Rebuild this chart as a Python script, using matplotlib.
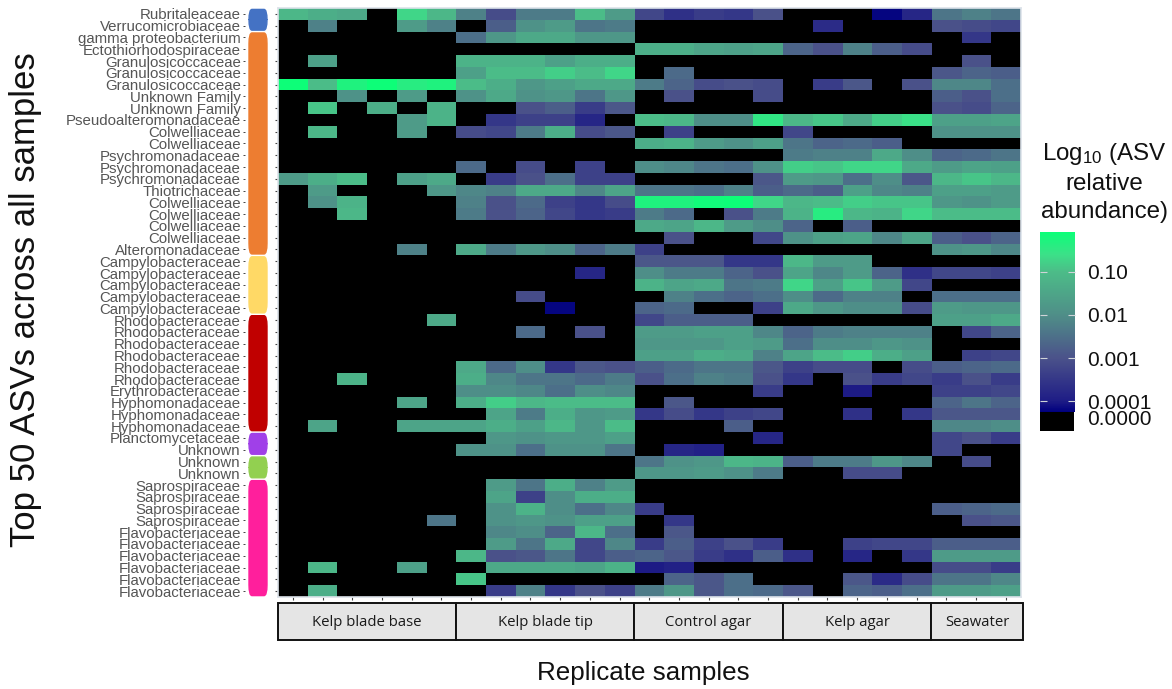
import numpy as np
import matplotlib
matplotlib.use('Agg')
import matplotlib.pyplot as plt
from matplotlib.colors import LinearSegmentedColormap
from matplotlib.patches import FancyBboxPatch, Rectangle

W, H = 1172, 689

plt.rcParams['font.family'] = ['Liberation Sans', 'DejaVu Sans']
plt.rcParams['mathtext.default'] = 'regular'

# log10 relative abundance, 0 means not detected
# columns: blade base x6, blade tip x6, control agar x5, kelp agar x5, seawater x3
verruco_rows = [
    [-1.1,-1.3,-1.4,0,-0.7,-1.1, -2.2,-3.1,-2.3,-2.3,-1.0,-1.7, -3.2,-3.6,-3.4,-3.5,-3.0, 0,0,0,-4.2,-3.8, -2.4,-2.2,-2.4],
    [0,-2.2,0,0,-1.7,-2.2, 0,-2.8,-1.9,-1.7,-2.4,-2.3, 0,0,0,0,0, 0,-3.7,0,0,0, -3.0,-3.1,-3.2],
]
gamma_rows = [
    [0,0,0,0,0,0, -2.5,-1.8,-1.4,-1.4,-1.8,-1.8, 0,0,0,0,0, 0,0,0,0,0, 0,-3.5,0],
    [0,0,0,0,0,0, 0,0,0,0,0,0, -1.3,-1.3,-1.5,-1.6,-1.5, -2.7,-3.0,-2.2,-2.8,-3.1, 0,0,0],
    [0,-1.6,0,0,0,0, -1.2,-1.2,-1.2,-1.6,-1.3,-1.3, 0,0,0,0,0, 0,0,0,0,0, 0,-3.0,0],
    [0,0,0,0,0,0, -1.6,-1.0,-1.0,-0.8,-1.0,-0.7, 0,-2.6,0,0,0, 0,0,0,0,0, -2.9,-2.7,-2.8],
    [-0.1,-1.0,-0.3,-0.1,-0.4,-0.3, -1.0,-1.3,-1.8,-1.6,-1.4,-1.4, -2.3,-2.7,-3.1,-3.0,-3.1, 0,-3.4,-2.9,0,-3.0, -2.1,-2.1,-2.5],
    [0,0,-1.9,0,-1.7,0, -1.9,-1.4,-1.9,-1.8,-2.4,-1.8, 0,-3.0,0,0,-3.1, 0,0,0,0,0, -2.8,-3.0,-2.5],
    [0,-0.9,0,-1.3,0,-1.2, 0,0,-3.0,-2.8,-3.4,-2.9, 0,0,0,0,0, 0,0,0,0,0, -3.0,-3.1,-2.7],
    [0,0,0,0,-1.7,-1.2, 0,-3.5,-3.3,-3.3,-3.8,0, -1.0,-1.1,-2.0,-2.0,-0.5, -1.1,-0.9,-1.4,-0.8,-0.6, -1.6,-1.6,-1.5],
    [0,-1.1,0,0,-1.7,0, -3.1,-3.2,-2.3,-1.3,-3.1,-2.9, 0,-3.3,0,0,0, -3.2,0,0,0,0, -1.9,-1.9,-1.9],
    [0,0,0,0,0,0, 0,0,0,0,0,0, -1.3,-1.2,-1.7,-1.9,-1.6, -2.4,-2.7,-2.6,-2.8,0, 0,0,0],
    [0,0,0,0,0,0, 0,0,0,0,0,0, 0,0,0,0,0, -2.3,-2.2,-2.2,-1.4,-2.0, -2.7,-2.6,-2.4],
    [0,0,0,0,0,0, -2.6,0,-3.1,0,-3.3,0, -2.0,-2.1,-2.4,-2.5,-1.9, -0.8,-0.9,-0.7,-0.7,-1.4, -1.7,-1.5,-1.6],
    [-1.7,-1.3,-1.0,0,-1.6,-1.4, 0,-3.4,-3.0,-2.5,-3.3,-3.3, 0,0,0,0,-2.9, -1.7,-1.8,-2.5,-2.0,-2.9, -1.1,-0.9,-1.1],
    [0,-1.7,0,0,0,-1.8, -2.1,-2.2,-1.4,-1.4,-2.1,-1.5, -2.4,-2.4,-2.5,-2.2,-2.8, -2.6,-2.8,-1.6,-2.1,-2.2, -1.6,-1.6,-1.7],
    [0,-1.9,-1.2,0,0,0, -2.2,-3.0,-2.6,-3.3,-3.5,-3.1, -0.3,-0.3,-0.15,-0.1,-0.7, -1.1,-1.0,-0.8,-0.9,-0.9, -1.8,-1.9,-1.7],
    [0,0,-1.1,0,0,0, -2.3,-3.0,-2.7,-3.2,-3.5,-3.4, -2.3,-2.6,0,-3.0,-2.3, -1.2,-0.4,-1.1,-1.2,-0.7, -1.0,-1.0,-1.0],
    [0,0,0,0,0,0, 0,0,0,0,0,0, -1.4,-1.5,-1.1,-1.7,-2.0, -2.7,0,-2.8,0,0, 0,0,0],
    [0,0,0,0,0,0, 0,0,0,0,0,0, 0,-3.0,0,0,-3.2, -1.9,-1.6,-1.5,-2.1,-1.5, -2.8,-3.0,-2.7],
    [0,0,0,0,-2.2,0, -1.4,-2.3,-1.8,-2.0,-2.7,-2.3, -3.3,0,0,0,0, 0,0,0,0,0, -1.9,-1.8,-2.1],
]
campylo_rows = [
    [0,0,0,0,0,0, 0,0,0,0,0,0, -2.9,-2.9,-2.9,-3.5,-3.5, -1.1,-1.7,-1.7,0,0, 0,0,0],
    [0,0,0,0,0,0, 0,0,0,0,-3.8,0, -2.0,-2.3,-2.3,-2.7,-3.0, -1.5,-2.1,-1.7,-2.7,-3.6, -3.2,-3.2,-3.3],
    [0,0,0,0,0,0, 0,0,0,0,0,0, -1.2,-1.5,-1.4,-2.4,-2.3, -0.7,-1.6,-0.9,-1.7,-3.2, 0,0,0],
    [0,0,0,0,0,0, 0,0,-3.1,0,0,0, 0,-2.2,-2.5,-2.7,-2.5, -2.0,-2.6,-2.2,-2.2,0, -2.5,-2.5,-2.5],
    [0,0,0,0,0,0, 0,0,0,-4.2,0,0, -2.7,-2.6,0,0,-3.3, -1.4,-1.8,-2.0,-2.0,-3.1, -1.7,-1.8,-1.8],
]
alpha_rows = [
    [0,0,0,0,0,-1.4, 0,0,0,0,0,0, -3.2,-2.8,-2.8,-2.8,0, 0,0,0,0,0, -1.6,-1.6,-1.4],
    [0,0,0,0,0,0, 0,0,-2.6,0,-3.0,0, -1.7,-1.7,-1.6,-1.6,-2.1, -2.7,-2.3,-2.2,-2.2,-2.2, 0,-3.2,-2.7],
    [0,0,0,0,0,0, 0,0,0,0,0,0, -1.8,-1.8,-1.8,-1.6,-1.7, -2.5,-2.0,-2.0,-1.8,-1.9, 0,0,0],
    [0,0,0,0,0,0, 0,0,0,0,0,0, -1.6,-1.6,-1.3,-1.4,-2.2, -1.5,-1.0,-0.8,-1.3,-1.6, 0,-3.3,-3.2],
    [0,0,0,0,0,0, -1.4,-2.6,-2.0,-3.5,-2.9,-3.0, -2.8,-2.6,-2.4,-2.4,-2.9, -3.3,-3.1,-3.1,0,-3.1, -2.8,-2.7,-2.6],
    [0,0,-1.2,0,0,0, -1.3,-2.1,-2.4,-2.4,-2.6,-2.3, -3.0,-2.5,-2.2,-2.3,-3.0, -3.5,0,-3.0,-3.4,-3.2, -3.4,-3.0,-3.4],
    [0,0,0,0,0,0, -2.0,-2.0,-2.1,-2.5,-2.0,-2.1, 0,0,0,0,-3.4, 0,0,-4.0,0,0, -3.3,-3.3,-3.2],
    [0,0,0,0,-1.5,0, -1.3,-0.8,-1.1,-1.0,-1.0,-1.0, 0,-2.9,0,0,0, 0,0,0,0,0, -2.7,-2.4,-2.7],
    [0,0,0,0,0,0, 0,-1.5,-2.3,-1.3,-1.8,-1.7, -3.5,-3.1,-3.5,-3.3,-3.2, 0,0,-3.6,0,-3.5, -2.9,-2.9,-2.9],
    [0,-1.5,0,0,-1.5,-1.5, -1.5,-1.3,-1.6,-1.1,-1.8,-1.0, 0,0,0,-2.8,0, 0,0,0,0,0, -2.1,-2.1,-2.0],
]
plancto_rows = [
    [0,0,0,0,0,0, 0,-1.8,-1.9,-1.8,-1.8,-1.6, 0,0,0,0,-3.8, 0,0,0,0,0, -3.2,-3.0,-3.4],
]
unknown_rows = [
    [0,0,0,0,0,0, -1.9,-1.9,-2.5,-1.9,-1.9,-2.4, 0,-3.8,-3.9,0,0, 0,0,0,0,0, -3.2,0,0],
    [0,0,0,0,0,0, 0,0,0,0,0,0, -2.4,-1.9,-1.8,-1.1,-1.2, -2.8,-2.3,-2.3,-1.8,-2.1, 0,-3.1,0],
    [0,0,0,0,0,0, 0,0,0,0,0,0, -1.8,-1.8,-1.7,-1.9,-2.3, 0,0,-3.1,-3.1,0, 0,0,0],
]
bacteroid_rows = [
    [0,0,0,0,0,0, 0,-1.7,-2.4,-1.3,-2.2,-1.7, 0,0,0,0,0, 0,0,0,0,0, 0,0,0],
    [0,0,0,0,0,0, 0,-1.5,-3.3,-2.0,-1.3,-1.3, 0,0,0,0,0, 0,0,0,0,0, 0,0,0],
    [0,0,0,0,0,0, 0,-1.9,-1.2,-2.0,-2.5,-2.1, -3.4,0,0,0,0, 0,0,0,0,0, -2.8,-2.7,-2.6],
    [0,0,0,0,0,-2.4, 0,-1.9,-1.8,-1.9,-1.6,-1.6, 0,-3.5,0,0,0, 0,0,0,0,0, 0,-3.0,-2.9],
    [0,0,0,0,0,0, 0,-2.1,-2.0,-2.7,-1.1,-2.5, 0,-2.9,0,0,0, 0,0,0,0,0, 0,0,0],
    [0,0,0,0,0,0, 0,-1.7,-2.4,-1.4,-3.2,-2.1, -3.4,-2.8,-3.3,-3.0,-3.4, 0,0,-3.3,-3.2,-3.2, -2.8,-2.8,-2.8],
    [0,0,0,0,0,0, -1.1,-3.0,-2.9,-2.4,-3.2,-2.8, -2.7,-2.9,-3.4,-3.6,-2.8, -3.6,0,-3.8,0,-3.5, -1.7,-1.7,-1.7],
    [0,-1.1,0,0,-1.6,0, 0,-1.4,-1.4,-1.4,-1.5,-1.2, -4.0,-3.9,0,0,0, 0,0,0,0,0, -3.1,-3.1,-3.4],
    [0,0,0,0,0,0, -0.9,0,0,0,0,0, 0,-2.7,-2.9,-2.5,0, 0,0,-2.9,-3.7,-3.1, -2.4,-2.4,-2.1],
    [0,-1.3,0,0,0,0, 0,-3.4,-2.2,-3.5,-3.0,-3.3, -2.3,-1.8,-2.9,-2.5,-2.6, -2.9,0,-2.7,-2.8,-2.5, -1.7,-1.7,-1.6],
]

taxa = ['Rubritaleaceae', 'Verrucomicrobiaceae', 'gamma proteobacterium',
        'Ectothiorhodospiraceae', 'Granulosicoccaceae', 'Granulosicoccaceae',
        'Granulosicoccaceae', 'Unknown Family', 'Unknown Family',
        'Pseudoalteromonadaceae', 'Colwelliaceae', 'Colwelliaceae',
        'Psychromonadaceae', 'Psychromonadaceae', 'Psychromonadaceae',
        'Thiotrichaceae', 'Colwelliaceae', 'Colwelliaceae', 'Colwelliaceae',
        'Colwelliaceae', 'Alteromonadaceae', 'Campylobacteraceae',
        'Campylobacteraceae', 'Campylobacteraceae', 'Campylobacteraceae',
        'Campylobacteraceae', 'Rhodobacteraceae', 'Rhodobacteraceae',
        'Rhodobacteraceae', 'Rhodobacteraceae', 'Rhodobacteraceae',
        'Rhodobacteraceae', 'Erythrobacteraceae', 'Hyphomonadaceae',
        'Hyphomonadaceae', 'Hyphomonadaceae', 'Planctomycetaceae', 'Unknown',
        'Unknown', 'Unknown', 'Saprospiraceae', 'Saprospiraceae',
        'Saprospiraceae', 'Saprospiraceae', 'Flavobacteriaceae',
        'Flavobacteriaceae', 'Flavobacteriaceae', 'Flavobacteriaceae',
        'Flavobacteriaceae', 'Flavobacteriaceae']

sample_groups = ['Kelp blade base', 'Kelp blade tip', 'Control agar', 'Kelp agar', 'Seawater']
group_sizes = [6, 6, 5, 5, 3]

phylum_colors = ['#4472C4', '#ED7D31', '#FFD966', '#C00000', '#A040E8', '#92D050', '#FF1F9C']
phylum_rows = [2, 19, 5, 10, 2, 2, 10]

legend_values = [-1, -2, -3, -4]
legend_labels = ['0.10', '0.01', '0.001', '0.0001']

VMIN, VMAX = -4.25, -0.08
cmap_nodes = [(-4.25, '#00007F'), (-4.0, '#1E1C86'), (-3.0, '#4B528A'),
              (-2.0, '#4F8E88'), (-1.0, '#4CBC88'), (-0.6, '#3CE088'),
              (-0.08, '#0CFF78')]


def px_axes(fig, x0, y0, x1, y1):
    # pixel box measured from top left of the picture
    return fig.add_axes([x0 / W, 1 - y1 / H, (x1 - x0) / W, (y1 - y0) / H])


def main():
    matrix = np.array(verruco_rows + gamma_rows + campylo_rows + alpha_rows
                      + plancto_rows + unknown_rows + bacteroid_rows, dtype=float)
    n_rows, n_cols = matrix.shape

    cmap = LinearSegmentedColormap.from_list(
        'abund', [((v - VMIN) / (VMAX - VMIN), c) for v, c in cmap_nodes])
    cmap.set_bad('black')

    fig = plt.figure(figsize=(W / 100, H / 100), dpi=100, facecolor='white')

    ax = px_axes(fig, 278, 8, 1020.5, 597)
    im = ax.imshow(np.ma.masked_equal(matrix, 0), cmap=cmap, vmin=VMIN, vmax=VMAX,
                   aspect='auto', interpolation='nearest')
    ax.set_xticks(range(n_cols))
    ax.set_yticks(range(n_rows))
    ax.set_xticklabels([])
    ax.set_yticklabels([])
    ax.tick_params(axis='both', length=2.5, width=0.8, color='#444444')
    for spine in ax.spines.values():
        spine.set_color('#dde3ea')
        spine.set_linewidth(1.2)

    # phylum sidebar with the row labels
    side = px_axes(fig, 245, 8, 272, 597)
    side.set_xlim(245, 272)
    side.set_ylim(n_rows - 0.5, -0.5)
    side.set_xticks([])
    side.set_yticks(range(n_rows))
    side.set_yticklabels(taxa, fontsize=10.8, color='#555555')
    side.tick_params(axis='y', length=1.5, width=0.7, pad=1.5, color='#444444')
    for spine in side.spines.values():
        spine.set_visible(False)
    start = -0.5
    for color, count in zip(phylum_colors, phylum_rows):
        side.add_patch(FancyBboxPatch(
            (249, start + 0.12), 18, count - 0.24,
            boxstyle='round,pad=0,rounding_size=3', mutation_aspect=0.3,
            linewidth=1, edgecolor=color, facecolor=color))
        start += count

    # facet strips
    col_w = (1020.5 - 278) / n_cols
    left = 278
    for i, (name, size) in enumerate(zip(sample_groups, group_sizes)):
        right = left + size * col_w
        if i == len(sample_groups) - 1:
            right += 2.5
        strip = Rectangle((left / W, 1 - 640 / H), (right - left) / W, 37 / H,
                          transform=fig.transFigure, facecolor='#E5E5E5',
                          edgecolor='#111111', linewidth=1.4)
        fig.add_artist(strip)
        fig.text((left + right) / 2 / W, 1 - 622 / H, name, family='Open Sans',
                 fontsize=10.7, color='#1a1a1a', ha='center', va='center')
        left = right

    fig.text(26 / W, 1 - 300 / H, 'Top 50 ASVs across all samples', rotation=90,
             fontsize=25, ha='center', va='center', color='#111111')
    fig.text(643 / W, 1 - 673 / H, 'Replicate samples', fontsize=18.7,
             ha='center', va='center', color='#111111')

    # legend
    cax = px_axes(fig, 1040, 232, 1075, 412)
    cbar = fig.colorbar(im, cax=cax)
    cbar.outline.set_visible(False)
    cbar.set_ticks(legend_values)
    cbar.set_ticklabels(legend_labels)
    cax.tick_params(axis='y', which='major', left=True, right=True, direction='in',
                    length=5, width=0.8, color='#cfd4d8', labelsize=15,
                    labelcolor='#111111', pad=8.5)
    cax.minorticks_off()
    fig.add_artist(Rectangle((1040 / W, 1 - 431 / H), 34 / W, 19 / H,
                             transform=fig.transFigure, facecolor='black',
                             edgecolor='none'))
    fig.text(1087 / W, 1 - 420 / H, '0.0000', fontsize=15, color='#111111',
             ha='left', va='center')
    fig.text(1104 / W, 1 - 182 / H, 'Log$_{10}$ (ASV\nrelative\nabundance)',
             fontsize=17.4, ha='center', va='center', linespacing=1.38,
             color='#111111')

    fig.savefig('out.png', dpi=100)


if __name__ == '__main__':
    main()
